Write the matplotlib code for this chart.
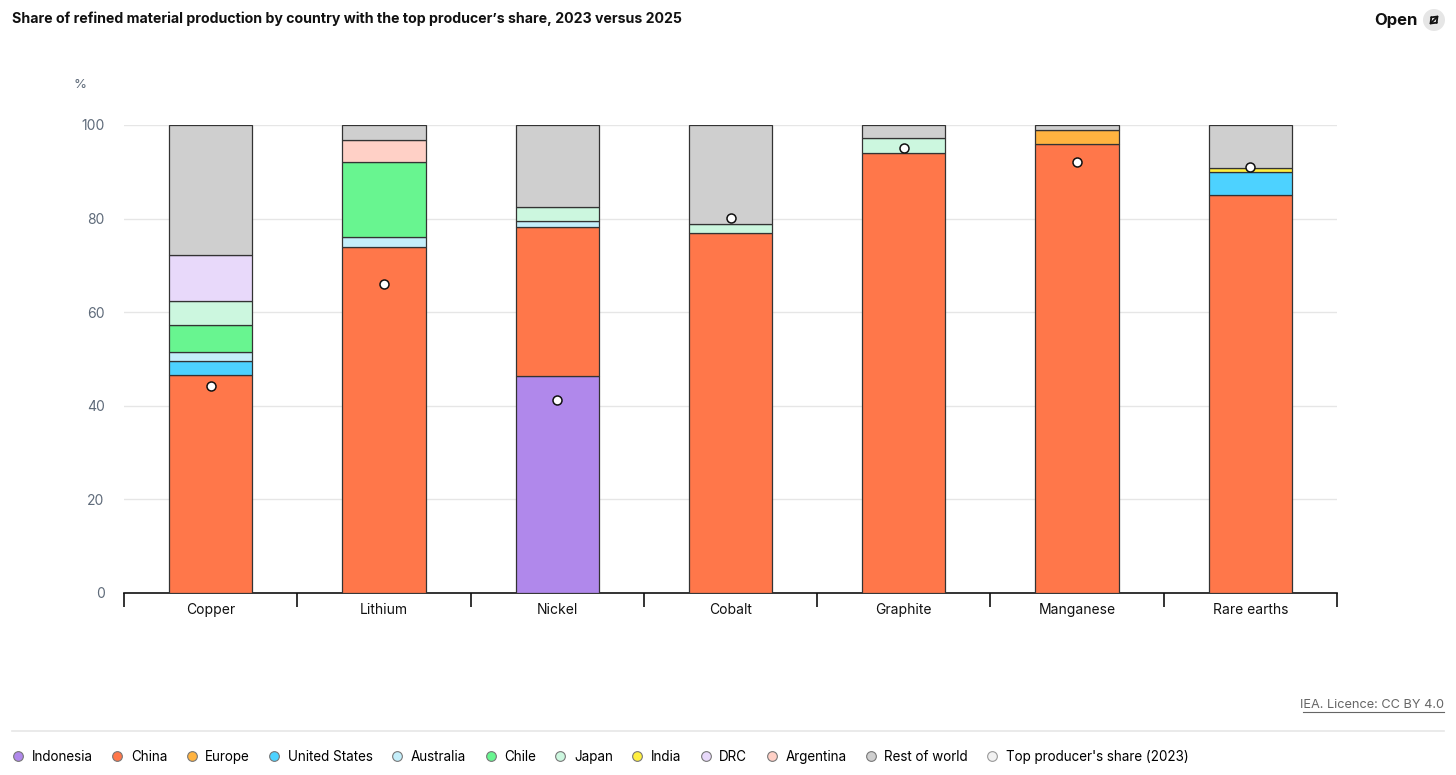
import matplotlib
matplotlib.use("Agg")
import matplotlib.pyplot as plt
from matplotlib.lines import Line2D
from matplotlib.patches import Circle, FancyArrowPatch
import numpy as np

plt.rcParams["font.family"] = ["Inter", "DejaVu Sans"]

materials = ["Copper", "Lithium", "Nickel", "Cobalt", "Graphite", "Manganese", "Rare earths"]

# share of refined production 2025 (%), stacked bottom to top
indonesia = [0, 0, 46.4, 0, 0, 0, 0]
china = [46.5, 73.9, 31.9, 76.9, 94.0, 95.9, 85.0]
europe = [0, 0, 0, 0, 0, 3.0, 0]
united_states = [3.1, 0, 0, 0, 0, 0, 4.9]
australia = [1.8, 2.1, 1.1, 0, 0, 0, 0]
chile = [5.9, 16.0, 0, 0, 0, 0, 0]
japan = [5.0, 0, 3.0, 1.9, 3.2, 0, 0]
india = [0, 0, 0, 0, 0, 0, 1.0]
drc = [9.9, 0, 0, 0, 0, 0, 0]
argentina = [0, 4.9, 0, 0, 0, 0, 0]
rest_of_world = [27.8, 3.1, 17.6, 21.2, 2.8, 1.1, 9.1]

top_share_2023 = [44.2, 66.1, 41.2, 80.1, 95.1, 92.0, 91.1]

series = [
    ("Indonesia", indonesia, "#b088eb"),
    ("China", china, "#ff774a"),
    ("Europe", europe, "#ffb340"),
    ("United States", united_states, "#4dd2ff"),
    ("Australia", australia, "#c4eefa"),
    ("Chile", chile, "#68f590"),
    ("Japan", japan, "#ccf7df"),
    ("India", india, "#ffef40"),
    ("DRC", drc, "#e8d9fa"),
    ("Argentina", argentina, "#ffd0c6"),
    ("Rest of world", rest_of_world, "#cfcfcf"),
]

W, H = 1456, 775
fig = plt.figure(figsize=(W / 100, H / 100), dpi=100)
ax = fig.add_axes([124 / W, 1 - 593 / H, 1213 / W, 468 / H])

x = np.arange(len(materials))
bottom = np.zeros(len(materials))
for name, vals, col in series:
    vals = np.array(vals, dtype=float)
    mask = vals > 0
    ax.bar(x[mask], vals[mask], width=0.48, bottom=bottom[mask], color=col,
           edgecolor="#333333", linewidth=0.9, zorder=3)
    bottom += vals

ax.scatter(x, top_share_2023, s=42, facecolor="white", edgecolor="#111111",
           linewidth=1.1, zorder=5)

ax.set_xlim(-0.5, len(materials) - 0.5)
ax.set_ylim(0, 100)
ax.set_yticks([0, 20, 40, 60, 80, 100])
ax.tick_params(axis="y", length=0, pad=14, labelsize=10, labelcolor="#5f6b7a")
ax.grid(axis="y", color="#e6e6e6", linewidth=1, zorder=0)
ax.set_axisbelow(True)

ax.set_xticks(x)
ax.set_xticklabels(materials, fontsize=10, color="#111111")
ax.tick_params(axis="x", length=0, pad=7)
ax.set_xticks(np.arange(-0.5, len(materials)), minor=True)
ax.tick_params(axis="x", which="minor", length=10, width=1.2, color="#111111", direction="out")

for s in ["top", "right", "left"]:
    ax.spines[s].set_visible(False)
ax.spines["bottom"].set_color("#111111")
ax.spines["bottom"].set_linewidth(1.2)

fig.text(80 / W, 1 - 85 / H, "%", fontsize=9.5, color="#5f6b7a", ha="center", va="center")

fig.text(12 / W, 1 - 19 / H,
         "Share of refined material production by country with the top producer\u2019s share, 2023 versus 2025",
         fontsize=10.2, fontweight="bold", ha="left", va="center", color="#111111")
fig.text(1418 / W, 1 - 20 / H, "Open", fontsize=12, fontweight="bold",
         ha="right", va="center", color="#111111")

# expand icon: grey circle with a diagonal double arrow (pixel coords)
fig.add_artist(Circle((1434, H - 20), 11, transform=None, facecolor="#e6e6e6",
                      edgecolor="none"))
fig.add_artist(FancyArrowPatch((1429.5, H - 24.5), (1438.5, H - 15.5), transform=None,
                               arrowstyle="<->,head_length=0.9,head_width=0.7",
                               mutation_scale=4, shrinkA=0, shrinkB=0,
                               color="#111111", linewidth=1.3))

fig.text(1444 / W, 1 - 705 / H, "IEA. Licence: CC BY 4.0", fontsize=9.2, color="#666666",
         ha="right", va="center")
fig.add_artist(Line2D([1303 / W, 1444 / W], [1 - 712 / H, 1 - 712 / H],
                      transform=fig.transFigure, color="#666666", linewidth=0.8))
fig.add_artist(Line2D([12 / W, 1444 / W], [1 - 731 / H, 1 - 731 / H],
                      transform=fig.transFigure, color="#e6e6e6", linewidth=1.2))

handles = []
for name, vals, col in series:
    handles.append(Line2D([], [], marker="o", linestyle="none", markersize=7,
                          markerfacecolor=col, markeredgecolor="#777777",
                          markeredgewidth=0.8, label=name))
handles.append(Line2D([], [], marker="o", linestyle="none", markersize=7,
                      markerfacecolor="#f2f2f2", markeredgecolor="#999999",
                      markeredgewidth=0.8, label="Top producer's share (2023)"))
fig.legend(handles=handles, loc="center left", bbox_to_anchor=(13 / W, 1 - 757 / H),
           ncol=len(handles), frameon=False, fontsize=9.7, handlelength=0.8,
           handletextpad=0.6, columnspacing=1.42, borderaxespad=0, borderpad=0)

fig.savefig("out.png", dpi=100)
